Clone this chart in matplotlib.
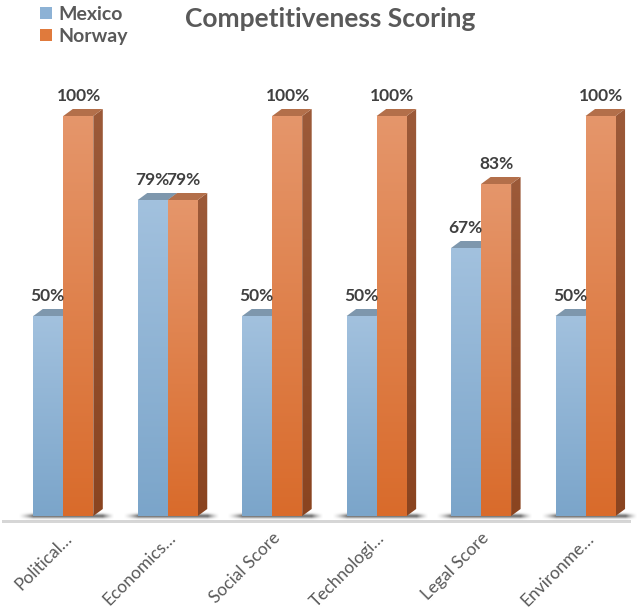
import numpy as np
import matplotlib
matplotlib.use("Agg")
import matplotlib.pyplot as plt
from matplotlib.patches import Polygon, Rectangle, Patch
from matplotlib.colors import LinearSegmentedColormap

# ---- data ----
categories = ["Political\u2026", "Economics\u2026", "Social Score",
              "Technologi\u2026", "Legal Score", "Environme\u2026"]
mexico = [50, 79, 50, 50, 67, 50]
norway = [100, 79, 100, 100, 83, 100]
series_names = ["Mexico", "Norway"]

# ---- figure geometry (pixels -> data units) ----
W, H, DPI = 642, 611, 100
GROUP_PX = 104.45          # distance between category groups in px
FIRST_PX = 63.3            # x pixel of the first group's centre
BASE_PX = 516              # y pixel of the value 0
PX_PER_PCT = 4.0           # vertical pixels per percentage point
PX_X = 1.0 / GROUP_PX
PX_Y = 1.0 / PX_PER_PCT

BAR_W = 30 * PX_X
DEPTH_X = 9.5 * PX_X
DEPTH_Y = 7 * PX_Y

plt.rcParams["font.family"] = ["Lato", "DejaVu Sans"]

fig = plt.figure(figsize=(W / DPI, H / DPI), dpi=DPI)
ax = fig.add_axes([0, (H - BASE_PX) / H, 1, BASE_PX / H])
ax.set_xlim(-FIRST_PX * PX_X, (W - FIRST_PX) * PX_X)
ax.set_ylim(0, BASE_PX * PX_Y)
for s in ax.spines.values():
    s.set_visible(False)
ax.set_yticks([])

x = np.arange(len(categories))

styles = {
    "Mexico": dict(front=("#a2c1de", "#7ba5ca"), side=("#6f8fab", "#5d7f9c"),
                   top="#7e97ad", legend="#8db2d5"),
    "Norway": dict(front=("#e5966b", "#d96b2b"), side=("#9c5a39", "#8a4420"),
                   top="#b36f4a", legend="#e07a3c"),
}


def vgrad(top, bottom):
    return LinearSegmentedColormap.from_list("g", [bottom, top])


grad = np.linspace(0, 1, 256).reshape(-1, 1)

# floor strip
floor = Rectangle((-FIRST_PX * PX_X + 2 * PX_X, -7 * PX_Y), 629 * PX_X, 3.5 * PX_Y,
                  facecolor="#d6d6d6", edgecolor="none", clip_on=False, zorder=1)
ax.add_patch(floor)

# soft floor shadows around each group
for i in x:
    left = i - BAR_W - 15 * PX_X
    right = i + BAR_W + DEPTH_X + 12 * PX_X
    nx, ny = 200, 40
    xs = np.linspace(0, 1, nx)
    span_l = (15 * PX_X) / (right - left)
    span_r = (12 * PX_X) / (right - left)
    ax_prof = np.ones(nx)
    ax_prof = np.where(xs < span_l, (xs / span_l) ** 1.5, ax_prof)
    ax_prof = np.where(xs > 1 - span_r, ((1 - xs) / span_r) ** 1.5, ax_prof)
    ys = np.linspace(-1, 1, ny)
    ay_prof = np.exp(-(ys / 0.45) ** 2)
    alpha = 0.55 * np.outer(ay_prof, ax_prof)
    rgba = np.zeros((ny, nx, 4))
    rgba[..., 3] = alpha
    ax.imshow(rgba, extent=(left, right, -5 * PX_Y, 5 * PX_Y), origin="lower",
              aspect="auto", zorder=2, clip_on=False, interpolation="bilinear")


def draw_bar(xc, v, st, z):
    xl, xr = xc - BAR_W / 2, xc + BAR_W / 2
    # side face
    side = Polygon([(xr, 0), (xr + DEPTH_X, DEPTH_Y), (xr + DEPTH_X, v + DEPTH_Y), (xr, v)],
                   closed=True, facecolor="none", edgecolor="none", zorder=z)
    ax.add_patch(side)
    im = ax.imshow(grad, extent=(xr, xr + DEPTH_X, 0, v + DEPTH_Y), origin="lower",
                   aspect="auto", cmap=vgrad(*st["side"]), zorder=z)
    im.set_clip_path(side)
    # top face
    ax.add_patch(Polygon([(xl, v), (xl + DEPTH_X, v + DEPTH_Y), (xr + DEPTH_X, v + DEPTH_Y), (xr, v)],
                         closed=True, facecolor=st["top"], edgecolor="none", zorder=z))
    # front face
    bar = ax.bar(xc, v, width=BAR_W, facecolor="none", edgecolor="none", zorder=z + 0.5)[0]
    im = ax.imshow(grad, extent=(xl, xr, 0, v), origin="lower", aspect="auto",
                   cmap=vgrad(*st["front"]), zorder=z + 0.5)
    im.set_clip_path(bar)


for i in x:
    draw_bar(i - BAR_W / 2, mexico[i], styles["Mexico"], 3)
    draw_bar(i + BAR_W / 2, norway[i], styles["Norway"], 4)

ax.set_xlim(-FIRST_PX * PX_X, (W - FIRST_PX) * PX_X)
ax.set_ylim(0, BASE_PX * PX_Y)

# value labels
label_kw = dict(ha="center", va="baseline", fontsize=12.5, fontweight="bold",
                color="#404040", zorder=10)
for i in x:
    ax.text(i - BAR_W / 2 - 0.5 * PX_X, mexico[i] + 15 * PX_Y, f"{mexico[i]}%", **label_kw)
    ax.text(i + BAR_W / 2 + 0.5 * PX_X, norway[i] + 15 * PX_Y, f"{norway[i]}%", **label_kw)

# category labels
ax.set_xticks(x)
ax.set_xticklabels(categories, rotation=45, ha="right", va="top",
                   rotation_mode="anchor", fontsize=12.5, color="#595959")
ax.tick_params(axis="x", length=0, pad=10)

# title
fig.text(330 / W, (H - 27) / H, "Competitiveness Scoring", ha="center", va="baseline",
         fontsize=19, fontweight="bold", color="#595959")

# legend
handles = [Patch(facecolor=styles[n]["legend"], edgecolor="none") for n in series_names]
fig.legend(handles, series_names, loc="upper left", bbox_to_anchor=(40 / W, 1 - 6 / H),
           frameon=False, prop={"weight": "bold", "size": 14},
           handlelength=0.62, handleheight=0.62, handletextpad=0.3,
           labelspacing=0.25, borderpad=0, borderaxespad=0, labelcolor="#595959")

fig.savefig("out.png", dpi=DPI, facecolor="white")
